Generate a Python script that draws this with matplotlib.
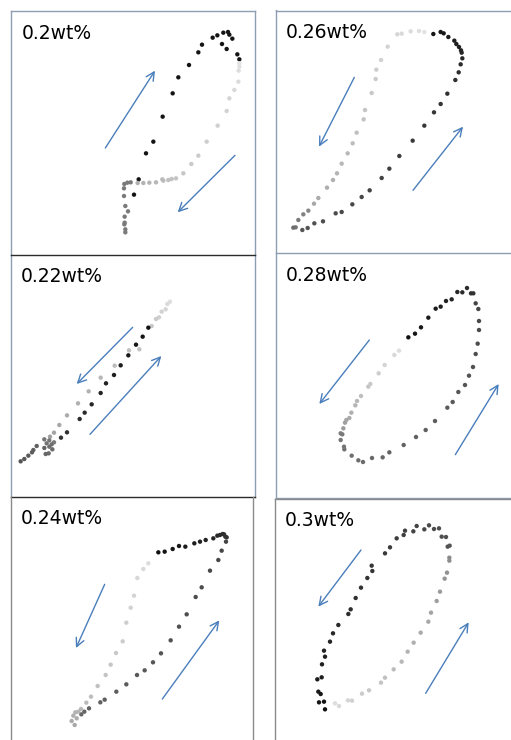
import matplotlib
matplotlib.use("Agg")
import matplotlib.pyplot as plt
import numpy as np
from matplotlib.colors import to_rgb

# ---------------- data (local panel coordinates, y grows downward) ----------------
labels = ["0.2wt%", "0.26wt%", "0.22wt%", "0.28wt%", "0.24wt%", "0.3wt%"]

# Panel 1: 0.2wt%
p1_black_x = [402, 416, 438, 460, 488, 518, 535, 567, 595, 606, 638, 652, 670, 684, 688, 697, 666, 680, 712, 718]
p1_black_y = [584, 538, 460, 425, 350, 280, 232, 195, 157, 134, 113, 106, 98, 96, 104, 116, 132, 147, 163, 178]
p1_light_x = [718, 718, 716, 715, 703, 688, 680, 653, 620, 595, 574, 550, 528, 515, 505, 490, 487, 468, 448, 430, 413]
p1_light_y = [190, 200, 212, 245, 270, 295, 333, 377, 425, 467, 492, 520, 535, 537, 540, 542, 538, 547, 548, 549, 549]
p1_gray_x = [392, 382, 373, 372, 372, 376, 384, 374, 374, 373, 376, 376]
p1_gray_y = [547, 548, 552, 565, 588, 618, 634, 650, 668, 673, 688, 697]

# Panel 2: 0.26wt%
p2_light_x = [508, 492, 467, 440, 427, 398, 378, 364, 362, 350, 330, 326, 305, 293, 278, 260, 246, 234, 216, 190, 177]
p2_light_y = [96, 93, 94, 101, 103, 140, 180, 209, 237, 279, 330, 358, 398, 430, 460, 491, 520, 540, 563, 594, 611]
p2_gray_x = [160, 145, 130, 122, 115]
p2_gray_y = [632, 643, 660, 682, 683]
p2_black_x = [535, 557, 566, 580, 598, 604, 612, 618, 620, 622, 617, 611, 601, 577, 557, 537, 508, 473, 433, 403,
              380, 344, 320, 292, 260, 242, 204, 178, 158, 142]
p2_black_y = [102, 96, 100, 111, 122, 132, 141, 151, 158, 175, 193, 217, 240, 281, 312, 337, 377, 422, 468, 506,
              534, 571, 591, 613, 636, 640, 664, 670, 684, 690]

# Panel 3: 0.22wt%
p3_light_x = [510, 502, 497, 485, 477, 468, 455, 418, 387, 344, 302, 266, 234, 201, 178, 162, 150]
p3_light_y = [155, 162, 178, 185, 202, 207, 228, 298, 301, 347, 383, 424, 460, 496, 525, 548, 560]
p3_black_x = [445, 428, 408, 385, 362, 342, 318, 302, 275, 254, 239, 201, 183]
p3_black_y = [233, 260, 284, 316, 346, 375, 400, 429, 463, 488, 507, 547, 563]
p3_gray_x = [162, 148, 133, 140, 155, 148, 157, 146, 137, 133, 110, 100, 96, 85, 73, 62]
p3_gray_y = [577, 571, 568, 580, 583, 590, 598, 610, 612, 594, 588, 600, 607, 617, 627, 634]

# Panel 4: 0.28wt%
p4_black_x = [460, 480, 498, 520, 542, 557, 573, 590, 607, 622, 636, 648, 655]
p4_black_y = [262, 251, 232, 203, 176, 170, 153, 148, 126, 127, 114, 130, 130]
p4_dark_x = [662, 670, 672, 672, 668, 662, 654, 642, 630, 610, 593, 577, 540, 512, 483, 446, 403, 383, 351, 324,
             310, 290, 268, 267, 257, 262, 257]
p4_dark_y = [160, 177, 213, 240, 281, 312, 351, 377, 405, 426, 456, 473, 513, 540, 561, 585, 607, 622, 624, 636,
             631, 617, 598, 590, 570, 553, 550]
p4_light_x = [265, 270, 274, 283, 289, 301, 306, 318, 340, 346, 371, 389, 418, 432]
p4_light_y = [535, 518, 510, 504, 488, 466, 453, 438, 410, 402, 370, 345, 315, 302]

# Panel 5: 0.24wt%
p5_black_x = [475, 494, 518, 537, 556, 583, 600, 617, 640, 652, 660, 668, 672, 676, 680]
p5_black_y = [187, 185, 177, 168, 170, 160, 155, 150, 145, 137, 135, 132, 133, 140, 142]
p5_dark_x = [678, 665, 655, 630, 605, 587, 560, 537, 512, 483, 459, 434, 411, 379, 349, 314, 301, 267, 253, 244]
p5_dark_y = [155, 182, 210, 242, 292, 321, 373, 410, 451, 490, 517, 541, 555, 583, 605, 629, 637, 655, 665, 673]
p5_light_x = [445, 430, 412, 402, 392, 379, 368, 348, 332, 317, 293, 273, 259, 243, 235, 226, 220, 230, 215, 224]
p5_light_y = [220, 237, 264, 317, 353, 398, 454, 489, 524, 555, 588, 620, 638, 657, 665, 667, 677, 685, 693, 705]

# Panel 6: 0.3wt%
p6_dark_x = [210, 207, 192, 197, 190, 187, 200, 201, 210, 207, 225, 234, 250, 280, 287, 302, 318, 337, 352, 350,
             390, 405, 425, 446, 450, 475, 485, 508, 522, 537, 552, 560, 573, 578, 584]
p6_dark_y = [658, 635, 637, 612, 605, 568, 562, 523, 500, 482, 455, 430, 405, 372, 358, 324, 293, 264, 243, 227,
             190, 172, 145, 135, 122, 124, 108, 118, 106, 117, 115, 140, 141, 170, 167]
p6_light_x = [583, 583, 576, 569, 555, 545, 528, 520, 497, 476, 458, 440, 416, 390, 378, 342, 321, 291, 279, 252, 240]
p6_light_y = [203, 212, 248, 266, 305, 333, 368, 395, 428, 458, 485, 515, 538, 563, 578, 601, 611, 632, 631, 648, 640]

# arrows: (x_start, y_start, x_end, y_end) per panel
p1_arrows = [(316, 444, 465, 212), (705, 466, 533, 637)]
p2_arrows = [(298, 232, 192, 440), (474, 571, 624, 380)]
p3_arrows = [(398, 232, 230, 402), (270, 553, 484, 318)]
p4_arrows = [(343, 270, 193, 462), (601, 614, 731, 402)]
p5_arrows = [(314, 283, 228, 474), (487, 627, 658, 391)]
p6_arrows = [(318, 180, 190, 350), (512, 610, 641, 397)]

# ---------------- layout / style ----------------
W, H = 511, 740
fig = plt.figure(figsize=(W / 100, H / 100), dpi=100)
fig.patch.set_facecolor("white")

LIGHT_FRAME = "#8d9db2"
DARK_FRAME = "#2b2b2b"
ARROW = "#4a7ebb"

panels = [
    dict(frame=(10.5, 11, 255, 255), origin=(0, 0),
         series=[(p1_black_x, p1_black_y, "#141414", "#141414"),
                 (p1_light_x, p1_light_y, "#e2e2e2", "#b0b0b0"),
                 (p1_gray_x, p1_gray_y, "#7a7a7a", "#7a7a7a")],
         arrows=p1_arrows, text=(65, 117), label=labels[0],
         spines=dict(left=LIGHT_FRAME, top=LIGHT_FRAME, right=LIGHT_FRAME, bottom=None)),
    dict(frame=(275.5, 10.5, 525, 253), origin=(255, 0),
         series=[(p2_light_x, p2_light_y, "#e2e2e2", "#a8a8a8"),
                 (p2_gray_x, p2_gray_y, "#888888", "#6e6e6e"),
                 (p2_black_x, p2_black_y, "#141414", "#555555")],
         arrows=p2_arrows, text=(92, 115), label=labels[1],
         spines=dict(left=LIGHT_FRAME, top=LIGHT_FRAME, right=None, bottom=LIGHT_FRAME)),
    dict(frame=(10.5, 255, 255, 497), origin=(0, 250),
         series=[(p3_light_x, p3_light_y, "#dedede", "#a0a0a0"),
                 (p3_black_x, p3_black_y, "#111111", "#333333"),
                 (p3_gray_x, p3_gray_y, "#7a7a7a", "#555555")],
         arrows=p3_arrows, text=(62, 95), label=labels[2],
         spines=dict(left=LIGHT_FRAME, top=DARK_FRAME, right=LIGHT_FRAME, bottom=DARK_FRAME)),
    dict(frame=(275.5, 254, 525, 498), origin=(255, 250),
         series=[(p4_black_x, p4_black_y, "#111111", "#333333"),
                 (p4_dark_x, p4_dark_y, "#444444", "#7a7a7a"),
                 (p4_light_x, p4_light_y, "#9a9a9a", "#dedede")],
         arrows=p4_arrows, text=(92, 92), label=labels[3],
         spines=dict(left=LIGHT_FRAME, top=None, right=None, bottom=LIGHT_FRAME)),
    dict(frame=(10.5, 497, 253, 760), origin=(0, 490),
         series=[(p5_black_x, p5_black_y, "#111111", "#333333"),
                 (p5_dark_x, p5_dark_y, "#444444", "#666666"),
                 (p5_light_x, p5_light_y, "#dcdcdc", "#a8a8a8")],
         arrows=p5_arrows, text=(62, 103), label=labels[4],
         spines=dict(left="#8a8a8a", top=None, right="#8a8a8a", bottom=None)),
    dict(frame=(274.5, 498.5, 525, 760), origin=(255, 490),
         series=[(p6_dark_x, p6_dark_y, "#111111", "#555555"),
                 (p6_light_x, p6_light_y, "#8a8a8a", "#dddddd")],
         arrows=p6_arrows, text=(90, 108), label=labels[5],
         spines=dict(left="#8a8a8a", top="#8a8a8a", right=None, bottom=None)),
]

for p in panels:
    L, T, R, B = p["frame"]
    ox, oy = p["origin"]
    ax = fig.add_axes([L / W, 1 - B / H, (R - L) / W, (B - T) / H])
    ax.set_xlim((L - ox) * 3, (R - ox) * 3)
    ax.set_ylim((B - oy) * 3, (T - oy) * 3)
    ax.set_xticks([])
    ax.set_yticks([])
    ax.patch.set_alpha(0)
    for side, col in p["spines"].items():
        if col is None:
            ax.spines[side].set_visible(False)
        else:
            ax.spines[side].set_color(col)
            ax.spines[side].set_linewidth(1.0)
    for xs, ys, c0, c1 in p["series"]:
        n = len(xs)
        a = np.array(to_rgb(c0))
        b = np.array(to_rgb(c1))
        t = np.linspace(0, 1, n)[:, None]
        cols = a * (1 - t) + b * t
        ax.scatter(xs, ys, s=10, c=cols, edgecolors="none", zorder=3, clip_on=False)
    for (x0, y0, x1, y1) in p["arrows"]:
        ax.annotate("", xy=(x1, y1), xytext=(x0, y0),
                    arrowprops=dict(arrowstyle="->,head_length=0.6,head_width=0.3",
                                    color=ARROW, lw=1.0, shrinkA=0, shrinkB=0))
    tx, ty = p["text"]
    ax.text(tx, ty, p["label"], fontsize=13.5, family="DejaVu Sans", va="baseline", ha="left", color="black")

fig.savefig("out.png", dpi=100, facecolor="white")
